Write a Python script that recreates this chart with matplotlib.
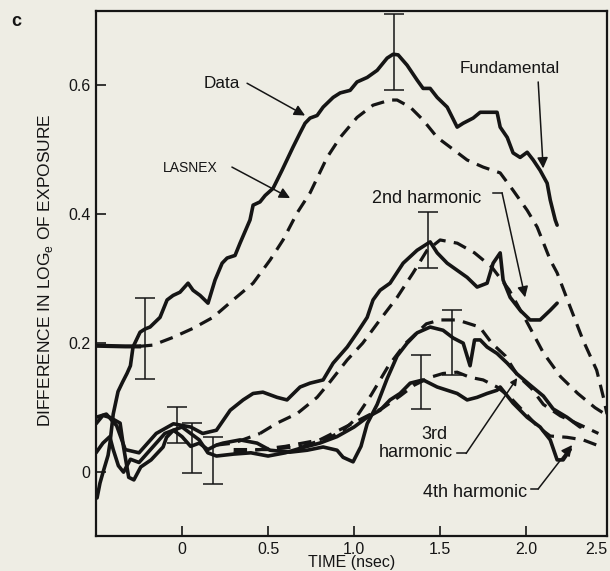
import matplotlib
matplotlib.use('Agg')
import matplotlib.pyplot as plt

plt.rcParams['font.family'] = ['Liberation Sans', 'DejaVu Sans']

# time axis values (nsec) and log-exposure differences
fund_t = [-0.494, -0.477, -0.459, -0.43, -0.419, -0.40, -0.372, -0.345, -0.32, -0.30, -0.285,
          -0.244, -0.215, -0.186, -0.128, -0.087, -0.052, -0.012, 0.035, 0.064, 0.105, 0.151,
          0.192, 0.233, 0.262, 0.308, 0.337, 0.395, 0.413, 0.453, 0.483, 0.529, 0.581, 0.645,
          0.686, 0.715, 0.744, 0.785, 0.820, 0.878, 0.919, 0.977, 1.017, 1.076, 1.134, 1.192,
          1.227, 1.256, 1.308, 1.366, 1.401, 1.442, 1.483, 1.541, 1.599, 1.634, 1.692, 1.733,
          1.831, 1.849, 1.890, 1.924, 1.965, 2.006, 2.041, 2.081, 2.122, 2.140, 2.169, 2.180]
fund_v = [-0.040, -0.017, 0.000, 0.026, 0.045, 0.090, 0.125, 0.140, 0.153, 0.165, 0.194,
          0.217, 0.222, 0.225, 0.240, 0.267, 0.274, 0.279, 0.293, 0.282, 0.274, 0.262,
          0.298, 0.324, 0.332, 0.336, 0.355, 0.391, 0.414, 0.419, 0.429, 0.440, 0.468, 0.504,
          0.526, 0.541, 0.549, 0.553, 0.566, 0.581, 0.588, 0.592, 0.605, 0.612, 0.623, 0.642,
          0.648, 0.647, 0.631, 0.608, 0.595, 0.595, 0.581, 0.566, 0.535, 0.541, 0.549, 0.558,
          0.558, 0.535, 0.519, 0.495, 0.488, 0.496, 0.484, 0.468, 0.448, 0.422, 0.391, 0.383]

fund_lasnex_t = [-0.5, -0.33, -0.25, -0.169, -0.052, 0.064, 0.180, 0.297, 0.413, 0.512, 0.587,
                 0.669, 0.744, 0.843, 0.919, 1.017, 1.11, 1.209, 1.25, 1.326, 1.401, 1.483,
                 1.558, 1.657, 1.75, 1.849, 1.924, 2.006, 2.064, 2.14, 2.18, 2.256, 2.33, 2.41,
                 2.45, 2.47]
fund_lasnex_v = [0.196, 0.195, 0.195, 0.197, 0.209, 0.223, 0.240, 0.267, 0.293, 0.329, 0.360,
                 0.402, 0.433, 0.488, 0.519, 0.550, 0.569, 0.577, 0.577, 0.566, 0.546, 0.519,
                 0.504, 0.484, 0.473, 0.464, 0.437, 0.406, 0.380, 0.329, 0.309, 0.256, 0.205, 0.158,
                 0.115, 0.090]

h2_t = [-0.5, -0.44, -0.38, -0.33, -0.25, -0.15, -0.05, 0.05, 0.12, 0.2, 0.28, 0.355, 0.413,
        0.47, 0.552, 0.61, 0.686, 0.744, 0.82, 0.878, 0.96, 1.017, 1.076, 1.11, 1.151, 1.209,
        1.285, 1.366, 1.442, 1.483, 1.541, 1.599, 1.657, 1.715, 1.773, 1.808, 1.849, 1.866,
        1.907, 1.965, 2.023, 2.081, 2.14, 2.18]
h2_v = [0.085, 0.090, 0.072, 0.035, 0.030, 0.060, 0.075, 0.070, 0.060, 0.065, 0.096, 0.112, 0.122,
        0.124, 0.116, 0.112, 0.132, 0.138, 0.143, 0.169, 0.194, 0.216, 0.240, 0.267, 0.282, 0.293,
        0.324, 0.344, 0.357, 0.340, 0.324, 0.313, 0.302, 0.287, 0.293, 0.324, 0.340, 0.298,
        0.271, 0.251, 0.236, 0.236, 0.251, 0.262]

h2_lasnex_t = [0.2, 0.3, 0.453, 0.552, 0.67, 0.785, 0.86, 0.96, 1.05, 1.15, 1.25, 1.343, 1.424,
               1.5, 1.6, 1.7, 1.8, 1.9, 2.0, 2.1, 2.2, 2.3, 2.4, 2.47]
h2_lasnex_v = [0.042, 0.045, 0.060, 0.076, 0.091, 0.116, 0.140, 0.174, 0.200, 0.236, 0.271, 0.309,
               0.344, 0.360, 0.355, 0.340, 0.318, 0.283, 0.235, 0.185, 0.148, 0.122, 0.100, 0.088]

h3_t = [-0.5, -0.46, -0.42, -0.40, -0.37, -0.34, -0.3, -0.25, -0.2, -0.15, -0.1, -0.05, 0.0,
        0.05, 0.1, 0.15, 0.2, 0.238, 0.337, 0.436, 0.512, 0.628, 0.727, 0.82, 0.901, 0.936,
        0.994, 1.04, 1.076, 1.134, 1.192, 1.25, 1.308, 1.366, 1.442, 1.517, 1.576, 1.634,
        1.674, 1.70, 1.733, 1.773, 1.831, 1.89, 1.948, 2.023, 2.1, 2.157, 2.238, 2.314]
h3_v = [0.030, 0.045, 0.055, 0.035, 0.010, 0.000, 0.020, 0.015, 0.030, 0.045, 0.060, 0.065, 0.055,
        0.040, 0.045, 0.035, 0.042, 0.045, 0.050, 0.045, 0.034, 0.031, 0.034, 0.039, 0.034, 0.023,
        0.016, 0.040, 0.075, 0.105, 0.145, 0.180, 0.200, 0.216, 0.225, 0.220, 0.208, 0.200,
        0.165, 0.205, 0.205, 0.194, 0.184, 0.169, 0.152, 0.135, 0.118, 0.098, 0.085, 0.070]

h3_lasnex_t = [0.3, 0.5, 0.7, 0.86, 0.936, 1.0, 1.1, 1.2, 1.3, 1.42, 1.5, 1.6, 1.73, 1.8, 1.88,
               1.95, 2.03, 2.1, 2.2, 2.3, 2.42]
h3_lasnex_v = [0.035, 0.035, 0.040, 0.054, 0.065, 0.080, 0.120, 0.165, 0.200, 0.230, 0.236, 0.236,
               0.225, 0.200, 0.180, 0.150, 0.130, 0.105, 0.087, 0.075, 0.060]

h4_t = [-0.5, -0.46, -0.42, -0.36, -0.34, -0.31, -0.28, -0.24, -0.18, -0.11, -0.09, -0.05, 0.0,
        0.05, 0.1, 0.15, 0.2, 0.3, 0.4, 0.5, 0.6, 0.7, 0.8, 0.9, 1.0, 1.076, 1.151, 1.209,
        1.267, 1.326, 1.401, 1.483, 1.541, 1.599, 1.657, 1.715, 1.773, 1.831, 1.849, 1.924,
        2.006, 2.081, 2.14, 2.18, 2.215, 2.256]
h4_v = [0.075, 0.088, 0.085, 0.076, 0.039, -0.008, -0.012, 0.008, 0.019, 0.039, 0.054, 0.065, 0.070,
        0.060, 0.050, 0.030, 0.025, 0.028, 0.030, 0.025, 0.030, 0.038, 0.045, 0.055, 0.070, 0.085,
        0.096, 0.112, 0.122, 0.138, 0.143, 0.132, 0.127, 0.122, 0.112, 0.116, 0.122, 0.127, 0.132,
        0.107, 0.085, 0.070, 0.050, 0.019, 0.019, 0.035]

h4_lasnex_t = [0.3, 0.6, 0.8, 0.994, 1.17, 1.267, 1.35, 1.442, 1.517, 1.599, 1.674, 1.75, 1.831,
               1.907, 2.0, 2.07, 2.14, 2.238, 2.331, 2.43]
h4_lasnex_v = [0.030, 0.040, 0.050, 0.076, 0.100, 0.118, 0.135, 0.147, 0.153, 0.155, 0.147, 0.143,
               0.132, 0.116, 0.090, 0.070, 0.056, 0.054, 0.050, 0.040]

# error bars: time, low, high
err_t = [-0.215, -0.03, 0.058, 0.18, 1.233, 1.43, 1.57, 1.39]
err_lo = [0.144, 0.045, -0.002, -0.019, 0.592, 0.316, 0.150, 0.098]
err_hi = [0.270, 0.101, 0.076, 0.054, 0.710, 0.403, 0.251, 0.181]

x_ticks = [0, 0.5, 1.0, 1.5, 2.0]
x_labels = ['0', '0.5', '1.0', '1.5', '2.0']
y_ticks = [0, 0.2, 0.4, 0.6]
y_labels = ['0', '0.2', '0.4', '0.6']

bg = '#eeede4'
ink = '#151515'

fig = plt.figure(figsize=(6.1, 5.71), dpi=100, facecolor=bg)
ax = fig.add_axes([0.1574, 0.0613, 0.838, 0.9194])
ax.set_facecolor(bg)

solid = dict(color=ink, lw=2.6, solid_joinstyle='round', solid_capstyle='round')
dashed = dict(color=ink, lw=2.3, linestyle=(0, (4.2, 2.6)), dash_capstyle='butt')

for t, v in [(fund_t, fund_v), (h2_t, h2_v), (h3_t, h3_v), (h4_t, h4_v)]:
    ax.plot(t, v, **solid)
for t, v in [(fund_lasnex_t, fund_lasnex_v), (h2_lasnex_t, h2_lasnex_v),
             (h3_lasnex_t, h3_lasnex_v), (h4_lasnex_t, h4_lasnex_v)]:
    ax.plot(t[2:], v[2:], **dashed)
# the fundamental LASNEX curve starts as a solid flat line
ax.plot(fund_lasnex_t[:3], fund_lasnex_v[:3], color=ink, lw=3.0)
for t, v in [(h2_lasnex_t, h2_lasnex_v), (h3_lasnex_t, h3_lasnex_v), (h4_lasnex_t, h4_lasnex_v)]:
    ax.plot(t[:3], v[:3], **dashed)

mid = [(a + b) / 2 for a, b in zip(err_lo, err_hi)]
half = [(b - a) / 2 for a, b in zip(err_lo, err_hi)]
ax.errorbar(err_t, mid, yerr=half, fmt='none', ecolor=ink, elinewidth=1.1,
            capsize=7, capthick=1.1)

ax.set_xlim(-0.5, 2.471)
ax.set_ylim(-0.099, 0.715)
ax.set_xticks(x_ticks)
ax.set_xticklabels(x_labels)
ax.set_yticks(y_ticks)
ax.set_yticklabels(y_labels)
ax.tick_params(direction='in', length=7, width=1.2, labelsize=11.5, colors=ink, pad=4)
# last tick label sits at the right edge of the frame
ax.text(2.471, -0.108, '2.5', ha='right', va='top', fontsize=11.5, color=ink)
for s in ax.spines.values():
    s.set_linewidth(1.6)
    s.set_color(ink)
ax.set_xlabel('TIME (nsec)', fontsize=11.5, color=ink, labelpad=-1)

fig.text(0.074, 0.527, 'DIFFERENCE IN LOG$_\\mathregular{e}$ OF EXPOSURE', rotation=90,
         ha='center', va='center', fontsize=12.5, color=ink)
fig.text(0.026, 0.962, 'c', fontsize=13, fontweight='bold', color=ink, ha='center', va='center')

arrow = dict(arrowstyle='-|>', color=ink, lw=1.1, mutation_scale=16, shrinkA=0, shrinkB=0)
line = dict(color=ink, lw=1.1)

ax.text(0.233, 0.603, 'Data', fontsize=12.3, ha='center', va='center', color=ink)
ax.annotate('', xy=(0.715, 0.553), xytext=(0.378, 0.603), arrowprops=arrow)

ax.text(0.047, 0.471, 'LASNEX', fontsize=10, ha='center', va='center', color=ink)
ax.annotate('', xy=(0.628, 0.425), xytext=(0.29, 0.473), arrowprops=arrow)

ax.text(1.907, 0.626, 'Fundamental', fontsize=12.3, ha='center', va='center', color=ink)
ax.annotate('', xy=(2.099, 0.471), xytext=(2.07, 0.605), arrowprops=arrow)

ax.text(1.419, 0.425, '2nd harmonic', fontsize=13, ha='center', va='center', color=ink)
ax.plot([1.808, 1.86], [0.433, 0.433], **line)
ax.annotate('', xy=(1.994, 0.271), xytext=(1.86, 0.433), arrowprops=arrow)

ax.text(1.541, 0.059, '3rd', fontsize=13, ha='right', va='center', color=ink)
ax.text(1.576, 0.031, 'harmonic', fontsize=13, ha='right', va='center', color=ink)
ax.plot([1.599, 1.651], [0.029, 0.029], **line)
ax.annotate('', xy=(1.948, 0.146), xytext=(1.651, 0.029),
            arrowprops=dict(arrow, mutation_scale=10))

ax.text(1.703, -0.031, '4th harmonic', fontsize=13, ha='center', va='center', color=ink)
ax.plot([2.03, 2.07], [-0.026, -0.026], **line)
ax.annotate('', xy=(2.267, 0.042), xytext=(2.07, -0.026), arrowprops=arrow)

fig.savefig('out.png', dpi=100, facecolor=bg)
